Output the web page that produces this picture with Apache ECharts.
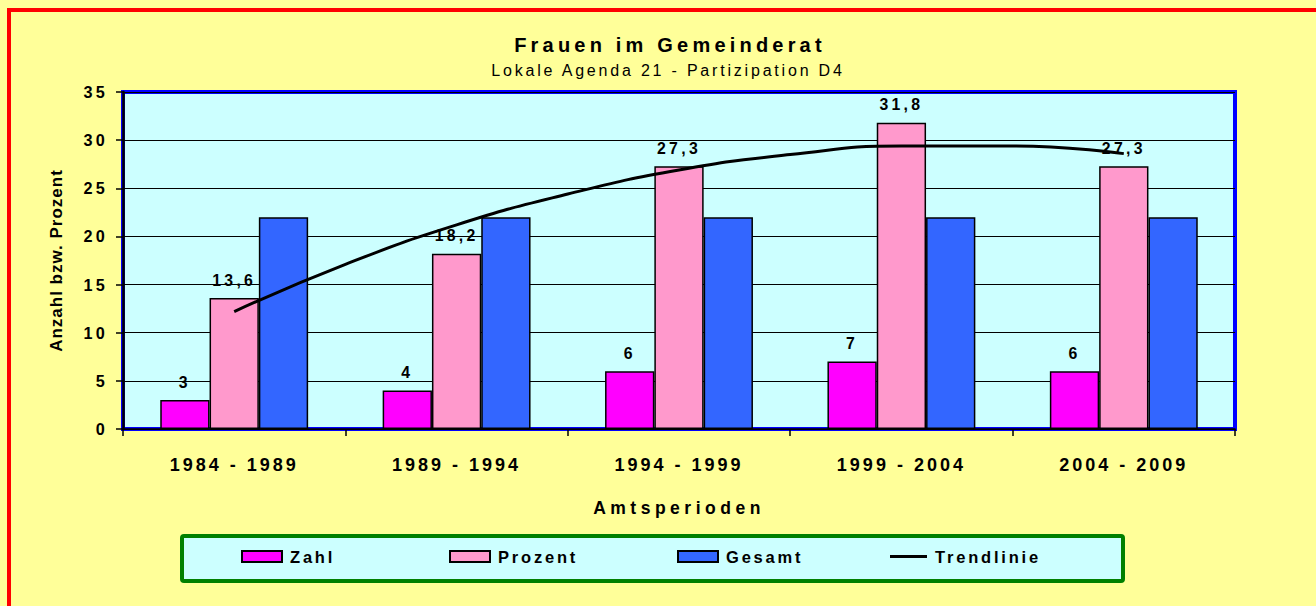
<!DOCTYPE html>
<html>
<head>
<meta charset="utf-8">
<script src="https://cdn.jsdelivr.net/npm/echarts@6/dist/echarts.min.js"></script>
<style>
html, body { margin: 0; padding: 0; background: #FFFF99; }
#chart { width: 1316px; height: 606px; }
svg text[style*="20px"] { letter-spacing: 4.2px; }
svg text[style*="16px"] { letter-spacing: 2.8px; }
svg text[style*="16.5px"] { letter-spacing: 2.8px; }
svg text[style*="16.2px"] { letter-spacing: 3.2px; }
svg text[style*="15.8px"] { letter-spacing: 3.3px; }
svg text[style*="18px"] { letter-spacing: 3px; }
svg text[style*="17.5px"] { letter-spacing: 4.5px; }
svg text[style*="17px"] { letter-spacing: 1px; }
</style>
</head>
<body>
<div id="chart"></div>
<script>
const categories = ['1984 - 1989', '1989 - 1994', '1994 - 1999', '1999 - 2004', '2004 - 2009'];
const zahl = [3, 4, 6, 7, 6];
const prozent = [13.6, 18.2, 27.3, 31.8, 27.3];
const gesamt = [22, 22, 22, 22, 22];
// trend line (position in category units, value)
const trendPos = [0.5, 1, 1.5, 2, 2.5, 3, 3.5, 4, 4.5];
const trendVal = [12.2, 17.1, 21.2, 24.4, 26.9, 28.5, 29.4, 29.4, 28.6];
const seriesNames = ['Zahl', 'Prozent', 'Gesamt', 'Trendlinie'];

const FONT = 'Arial';
const chart = echarts.init(document.getElementById('chart'), null, { renderer: 'svg' });

const labelFmt = p => String(p.value).replace('.', ',');
const barLabel = {
  show: true, position: 'top', distance: 10, formatter: labelFmt,
  fontSize: 15.8, fontWeight: 'bold', color: '#000', fontFamily: FONT
};
const legendText = { fontSize: 16.5, fontWeight: 'bold', color: '#000', fontFamily: FONT, lineHeight: 17, padding: [0, 0, 0, 3] };
const legendLefts = [241, 449, 677, 890];

const option = {
  backgroundColor: '#FFFF99',
  animation: false,
  title: [
    { text: 'Frauen im Gemeinderat', left: 670, top: 35, textAlign: 'center', padding: 0,
      textStyle: { fontSize: 20, fontWeight: 'bold', color: '#000', fontFamily: FONT, lineHeight: 20 } },
    { text: 'Lokale Agenda 21 - Partizipation D4', left: 668, top: 62, textAlign: 'center', padding: 0,
      textStyle: { fontSize: 16, fontWeight: 'normal', color: '#000', fontFamily: FONT, lineHeight: 16 } }
  ],
  legend: seriesNames.map((n, i) => ({
    data: [{ name: n, icon: 'rect' }], left: legendLefts[i], top: i === 3 ? 548 : 548, padding: 0, selectedMode: false,
    itemWidth: i === 3 ? 37 : 40, itemHeight: i === 3 ? 3 : 11, textStyle: legendText,
    itemStyle: i === 3 ? { color: '#000', borderWidth: 0 } : {}
  })),
  grid: {
    left: 123, right: 81, top: 92, bottom: 177,
    show: true, backgroundColor: '#CCFFFF', borderColor: '#0000FF', borderWidth: 4
  },
  xAxis: [
    {
      type: 'category', data: categories,
      axisLine: { show: true, lineStyle: { color: '#000', width: 1.5 } },
      axisTick: { show: true, length: 7, lineStyle: { color: '#000', width: 1.5 } },
      axisLabel: { margin: 27, fontSize: 18, fontWeight: 'bold', color: '#000', fontFamily: FONT },
      name: 'Amtsperioden', nameLocation: 'middle', nameGap: 70,
      nameTextStyle: { fontSize: 17.5, fontWeight: 'bold', color: '#000', fontFamily: FONT }
    },
    { type: 'value', min: 0, max: 5, show: false }
  ],
  yAxis: {
    type: 'value', min: 0, max: 35, interval: 5,
    axisLine: { show: true, lineStyle: { color: '#000', width: 2.5 } },
    axisTick: { show: true, length: 7, lineStyle: { color: '#000', width: 1.5 } },
    axisLabel: { margin: 15, fontSize: 16.2, fontWeight: 'bold', color: '#000', fontFamily: FONT },
    splitLine: { show: true, lineStyle: { color: '#000', width: 1.2 } },
    name: 'Anzahl bzw. Prozent', nameLocation: 'middle', nameGap: 58,
    nameTextStyle: { fontSize: 17, fontWeight: 'bold', color: '#000', fontFamily: FONT }
  },
  series: [
    { name: 'Zahl', type: 'bar', data: zahl, barGap: '0%', barCategoryGap: '33.5%',
      itemStyle: { color: '#FF00FF', borderColor: '#000', borderWidth: 1.5 }, label: barLabel },
    { name: 'Prozent', type: 'bar', data: prozent, barGap: '0%', barCategoryGap: '33.5%',
      itemStyle: { color: '#FF99CC', borderColor: '#000', borderWidth: 1.5 }, label: barLabel },
    { name: 'Gesamt', type: 'bar', data: gesamt, barGap: '0%', barCategoryGap: '33.5%',
      itemStyle: { color: '#3366FF', borderColor: '#000', borderWidth: 1.5 } },
    { name: 'Trendlinie', type: 'line', xAxisIndex: 1, smooth: true, symbol: 'none', z: 5,
      data: trendPos.map((x, i) => [x, trendVal[i]]),
      lineStyle: { color: '#000', width: 3 }, itemStyle: { color: '#000' } }
  ],
  graphic: [
    { type: 'rect', z: 0, shape: { x: 182, y: 536, width: 941, height: 45, r: 2 },
      style: { fill: '#CCFFFF', stroke: '#008000', lineWidth: 4 } },
    { type: 'rect', z: 100, shape: { x: 9, y: 10, width: 1400, height: 700 },
      style: { fill: 'none', stroke: '#FF0000', lineWidth: 4 } }
  ]
};
chart.setOption(option);
</script>
</body>
</html>
